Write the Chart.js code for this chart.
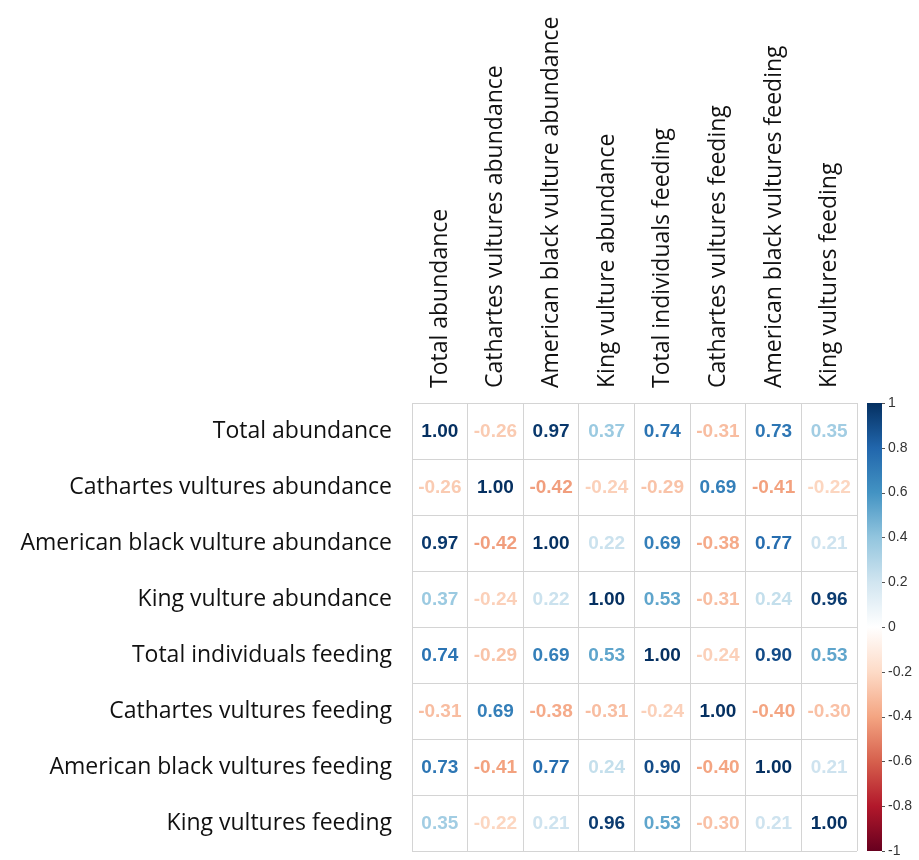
<!DOCTYPE html>
<html>
<head>
<meta charset="utf-8">
<script src="https://cdn.jsdelivr.net/npm/chart.js@4/dist/chart.umd.min.js"></script>
<style>
  html, body { margin: 0; padding: 0; background: #fff; }
  #wrap { width: 919px; height: 860px; }
</style>
</head>
<body>
<div id="wrap"><canvas id="chart"></canvas></div>
<script>
// variables (same order on both axes)
const variables = [
  'Total abundance',
  'Cathartes vultures abundance',
  'American black vulture abundance',
  'King vulture abundance',
  'Total individuals feeding',
  'Cathartes vultures feeding',
  'American black vultures feeding',
  'King vultures feeding'
];

// correlation rows, one per variable
const totalAbundance      = [1.00, -0.26, 0.97, 0.37, 0.74, -0.31, 0.73, 0.35];
const cathartesAbundance  = [-0.26, 1.00, -0.42, -0.24, -0.29, 0.69, -0.41, -0.22];
const blackAbundance      = [0.97, -0.42, 1.00, 0.22, 0.69, -0.38, 0.77, 0.21];
const kingAbundance       = [0.37, -0.24, 0.22, 1.00, 0.53, -0.31, 0.24, 0.96];
const totalFeeding        = [0.74, -0.29, 0.69, 0.53, 1.00, -0.24, 0.90, 0.53];
const cathartesFeeding    = [-0.31, 0.69, -0.38, -0.31, -0.24, 1.00, -0.40, -0.30];
const blackFeeding        = [0.73, -0.41, 0.77, 0.24, 0.90, -0.40, 1.00, 0.21];
const kingFeeding         = [0.35, -0.22, 0.21, 0.96, 0.53, -0.30, 0.21, 1.00];

const rows = [totalAbundance, cathartesAbundance, blackAbundance, kingAbundance,
              totalFeeding, cathartesFeeding, blackFeeding, kingFeeding];

// colour bar ticks
const colorbarTicks = [1, 0.8, 0.6, 0.4, 0.2, 0, -0.2, -0.4, -0.6, -0.8, -1];

// RdBu palette, -1 -> 1
const palette = ['#67001F', '#B2182B', '#D6604D', '#F4A582', '#FDDBC7', '#FFFFFF',
                 '#D1E5F0', '#92C5DE', '#4393C3', '#2166AC', '#053061'];

function hexToRgb(h) {
  return [parseInt(h.slice(1, 3), 16), parseInt(h.slice(3, 5), 16), parseInt(h.slice(5, 7), 16)];
}

function colorFor(v) {
  const t = (Math.max(-1, Math.min(1, v)) + 1) / 2 * (palette.length - 1);
  const i = Math.min(Math.floor(t), palette.length - 2);
  const f = t - i;
  const a = hexToRgb(palette[i]), b = hexToRgb(palette[i + 1]);
  const c = a.map((x, k) => Math.round(x + (b[k] - x) * f));
  return 'rgb(' + c.join(',') + ')';
}

const points = [];
rows.forEach((row, r) => {
  row.forEach((v, c) => {
    points.push({ x: variables[c], y: variables[r], v: v });
  });
});

const cellText = {
  id: 'cellText',
  afterDatasetsDraw(chart) {
    const ctx = chart.ctx;
    const meta = chart.getDatasetMeta(0);
    ctx.save();
    ctx.font = 'bold 19px "Liberation Sans", Arial, sans-serif';
    ctx.textAlign = 'center';
    ctx.textBaseline = 'middle';
    meta.data.forEach((el, i) => {
      const v = points[i].v;
      ctx.fillStyle = colorFor(v);
      ctx.fillText(v.toFixed(2), el.x, el.y + 1);
    });
    ctx.restore();
  }
};

const colorBar = {
  id: 'colorBar',
  afterDraw(chart) {
    const s = chart.scales.cb;
    const ctx = chart.ctx;
    const x0 = s.left + 10, w = 15;
    const top = s.getPixelForValue(1), bottom = s.getPixelForValue(-1);
    const grad = ctx.createLinearGradient(0, bottom, 0, top);
    palette.forEach((c, i) => grad.addColorStop(i / (palette.length - 1), c));
    ctx.save();
    ctx.fillStyle = grad;
    ctx.fillRect(x0, top, w, bottom - top);
    ctx.strokeStyle = '#555';
    ctx.lineWidth = 1;
    colorbarTicks.forEach(t => {
      const y = Math.round(s.getPixelForValue(t)) + 0.5;
      ctx.beginPath();
      ctx.moveTo(x0 + w, y);
      ctx.lineTo(x0 + w + 3, y);
      ctx.stroke();
    });
    ctx.restore();
  }
};

function noPad(scale) {
  scale.paddingTop = 0;
  scale.paddingBottom = 0;
  scale.paddingLeft = 0;
  scale.paddingRight = 0;
}

new Chart(document.getElementById('chart'), {
  type: 'scatter',
  data: {
    datasets: [{
      data: points,
      pointRadius: 0,
      pointHoverRadius: 0
    }]
  },
  options: {
    responsive: true,
    maintainAspectRatio: false,
    animation: false,
    layout: { padding: { left: 0, right: 0, top: 0, bottom: 9 } },
    plugins: { legend: { display: false }, tooltip: { enabled: false } },
    scales: {
      x: {
        type: 'category',
        labels: variables,
        position: 'top',
        offset: true,
        grid: { offset: true, color: '#d4d4d4', drawTicks: false },
        border: { color: '#d4d4d4' },
        ticks: {
          autoSkip: false,
          minRotation: 90,
          maxRotation: 90,
          padding: 15,
          labelOffset: 28,
          color: '#111',
          font: { family: 'Open Sans', size: 23 }
        },
        afterFit(scale) { scale.height = 403; noPad(scale); }
      },
      y: {
        type: 'category',
        labels: variables,
        offset: true,
        grid: { offset: true, color: '#d4d4d4', drawTicks: false },
        border: { color: '#d4d4d4' },
        ticks: {
          autoSkip: false,
          padding: 20,
          color: '#111',
          font: { family: 'Open Sans', size: 23 }
        },
        afterFit(scale) { scale.width = 412; noPad(scale); }
      },
      cb: {
        type: 'linear',
        position: 'right',
        min: -1,
        max: 1,
        grid: { display: false, drawOnChartArea: false, drawTicks: false },
        border: { display: false },
        ticks: {
          stepSize: 0.2,
          padding: 31,
          color: '#333',
          font: { family: 'Liberation Sans', size: 14 },
          callback: v => String(Math.round(v * 10) / 10)
        },
        afterFit(scale) { scale.width = 62; noPad(scale); }
      }
    }
  },
  plugins: [cellText, colorBar]
});
</script>
</body>
</html>
